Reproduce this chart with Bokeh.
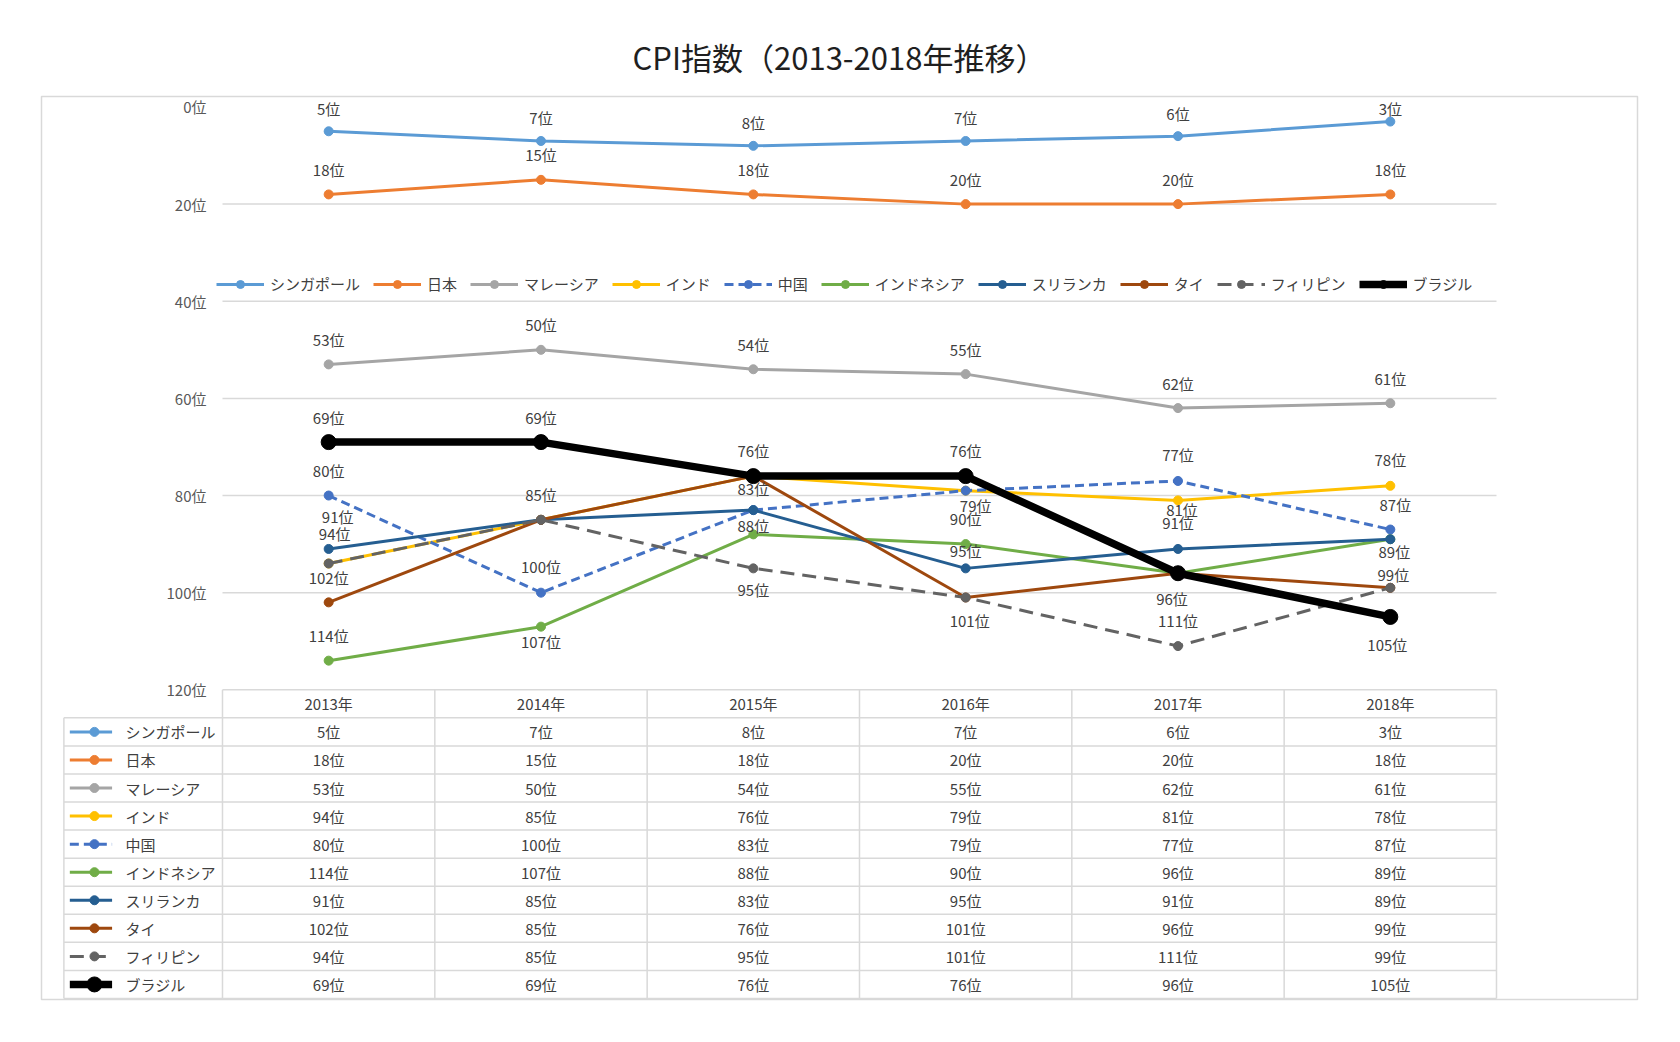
from bokeh.plotting import figure
from bokeh.models import Legend, LegendItem, Range1d, Title
from bokeh.embed import file_html
from bokeh.resources import INLINE
from bokeh.core.properties import value

# ---------------- data ----------------
years = ["2013年", "2014年", "2015年", "2016年", "2017年", "2018年"]
countries = ["シンガポール", "日本", "マレーシア", "インド", "中国",
             "インドネシア", "スリランカ", "タイ", "フィリピン", "ブラジル"]
singapore = [5, 7, 8, 7, 6, 3]
japan = [18, 15, 18, 20, 20, 18]
malaysia = [53, 50, 54, 55, 62, 61]
india = [94, 85, 76, 79, 81, 78]
china = [80, 100, 83, 79, 77, 87]
indonesia = [114, 107, 88, 90, 96, 89]
srilanka = [91, 85, 83, 95, 91, 89]
thailand = [102, 85, 76, 101, 96, 99]
philippines = [94, 85, 95, 101, 111, 99]
brazil = [69, 69, 76, 76, 96, 105]
y_ticks = [0, 20, 40, 60, 80, 100, 120]
title_text = "CPI指数（2013-2018年推移）"
unit = "位"

series = [singapore, japan, malaysia, india, china,
          indonesia, srilanka, thailand, philippines, brazil]

# ---------------- styles ----------------
FONT = "Noto Sans CJK JP"
TXT = "#404040"
GRID = "#d9d9d9"
styles = [
    dict(color="#5B9BD5", width=3, dash="solid", size=9),
    dict(color="#ED7D31", width=3, dash="solid", size=9),
    dict(color="#A5A5A5", width=3, dash="solid", size=9),
    dict(color="#FFC000", width=3, dash="solid", size=9),
    dict(color="#4472C4", width=3, dash="9 5", size=9),
    dict(color="#70AD47", width=3, dash="solid", size=9),
    dict(color="#255E91", width=3, dash="solid", size=9),
    dict(color="#9E480E", width=3, dash="solid", size=9),
    dict(color="#636363", width=3, dash="14 8", size=9),
    dict(color="#000000", width=7.5, dash="solid", size=15),
]
# data-label offsets in screen px (dx, dy); None = label hidden
label_offsets = [
    [(0, -21), (0, -21), (0, -21), (0, -21), (0, -21), (0, -11)],
    [(0, -23)] * 6,
    [(0, -23)] * 6,
    [(6, -28), (0, -23), None, None, (4, 11), (0, -24)],
    [(0, -23), (0, -24), (0, -20), (10, 17), (0, -24), (5, -23)],
    [(0, -23), (0, 17), (0, -7), (0, -24), None, (4, 14)],
    [(9, -30), None, None, (0, -16), (0, -24), None],
    [(0, -23), None, None, (4, 25), None, (3, -11)],
    [None, None, (0, 23), None, (0, -24), None],
    [(0, -23), (0, -23), (0, -24), (0, -24), (-6, 27), (-3, 30)],
]
label_nudge = -2

# ---------------- figure geometry ----------------
n = len(years)
xs = list(range(1, n + 1))
x_lo, x_hi = -0.3524, 7.1641
y_top, y_bot = -2.16, 183.77
row_h = 5.778
tbl_top = y_ticks[-1]
tbl_left = -0.247

p = figure(width=1664, height=1026,
           x_range=Range1d(x_lo, x_hi), y_range=Range1d(y_bot, y_top),
           output_backend="svg", toolbar_location=None,
           x_axis_type=None, y_axis_type=None,
           min_border_left=41, min_border_right=27,
           min_border_top=96, min_border_bottom=27)
p.outline_line_color = GRID
p.outline_line_width = 1.5
p.background_fill_color = "white"

p.title = Title(text=title_text, align="center", text_font=FONT,
                text_font_size="31px", text_font_style="normal",
                text_color="#1f1f1f", standoff=36)

# gridlines (no line at 0; 120 is the table top)
grid_y = [t for t in y_ticks if 0 < t < tbl_top]
p.segment(x0=0.5, x1=n + 0.5, y0=grid_y, y1=grid_y,
          line_color=GRID, line_width=1.5)

# y-axis labels
p.text(x=0.5, y=y_ticks, text=[f"{t}{unit}" for t in y_ticks],
       x_offset=-16, text_align="right", text_baseline="middle",
       text_font=value(FONT), text_font_size="15px", text_color="#595959")

# series
items = []
for name, vals, st in zip(countries, series, styles):
    r1 = p.line(xs, vals, line_color=st["color"], line_width=st["width"],
                line_dash=st["dash"])
    r2 = p.scatter(xs, vals, marker="circle", size=st["size"],
                   fill_color=st["color"], line_color=st["color"])
    items.append(LegendItem(label=name, renderers=[r1, r2]))

# data labels
lx, ly, lt, lxo, lyo = [], [], [], [], []
for vals, offs in zip(series, label_offsets):
    for i, v in enumerate(vals):
        o = offs[i]
        if o is None:
            continue
        lx.append(xs[i]); ly.append(v); lt.append(f"{v}{unit}")
        lxo.append(o[0]); lyo.append(o[1] + label_nudge)
p.text(x=lx, y=ly, text=lt, x_offset=lxo, y_offset=lyo,
       text_align="center", text_baseline="middle",
       text_font=value(FONT), text_font_size="15px", text_color=TXT)

# legend
legend = Legend(items=items, orientation="horizontal", location=(175, 705),
                padding=0, margin=0, spacing=13, label_standoff=6,
                glyph_width=48, glyph_height=20, label_height=20,
                label_text_font=FONT, label_text_font_size="15px",
                label_text_color=TXT, label_text_baseline="middle",
                border_line_color=None, background_fill_alpha=0)
p.add_layout(legend)

# ---------------- data table ----------------
nrows = len(countries) + 1
tbl_bot = tbl_top + nrows * row_h
# horizontal lines
p.segment(x0=0.5, x1=n + 0.5, y0=tbl_top, y1=tbl_top, line_color=GRID, line_width=1.5)
hy = [tbl_top + k * row_h for k in range(1, nrows + 1)]
p.segment(x0=tbl_left, x1=n + 0.5, y0=hy, y1=hy, line_color=GRID, line_width=1.5)
# vertical lines
vx = [k + 0.5 for k in range(0, n + 1)]
p.segment(x0=vx, x1=vx, y0=tbl_top, y1=tbl_bot, line_color=GRID, line_width=1.5)
p.segment(x0=tbl_left, x1=tbl_left, y0=tbl_top + row_h, y1=tbl_bot,
          line_color=GRID, line_width=1.5)

# header
p.text(x=xs, y=[tbl_top + row_h / 2] * n, text=years,
       text_align="center", text_baseline="middle",
       text_font=value(FONT), text_font_size="15px", text_color=TXT)

# rows
cx, cy, ct = [], [], []
for r, vals in enumerate(series):
    yc = tbl_top + (r + 1.5) * row_h
    for i, v in enumerate(vals):
        cx.append(xs[i]); cy.append(yc); ct.append(f"{v}{unit}")
p.text(x=cx, y=cy, text=ct, text_align="center", text_baseline="middle",
       text_font=value(FONT), text_font_size="15px", text_color=TXT)

# row keys
key_x0, key_x1, key_xm, key_tx = -0.219, -0.020, -0.103, 0.043
for r, (name, st) in enumerate(zip(countries, styles)):
    yc = tbl_top + (r + 1.5) * row_h
    p.segment(x0=key_x0, x1=key_x1, y0=yc, y1=yc, line_color=st["color"],
              line_width=st["width"], line_dash=st["dash"])
    p.scatter(x=[key_xm], y=[yc], marker="circle", size=st["size"],
              fill_color=st["color"], line_color=st["color"])
p.text(x=key_tx, y=[tbl_top + (r + 1.5) * row_h for r in range(len(countries))],
       text=countries, text_align="left", text_baseline="middle",
       text_font=value(FONT), text_font_size="15px", text_color=TXT)

open("out.html", "w").write(file_html(p, INLINE))
